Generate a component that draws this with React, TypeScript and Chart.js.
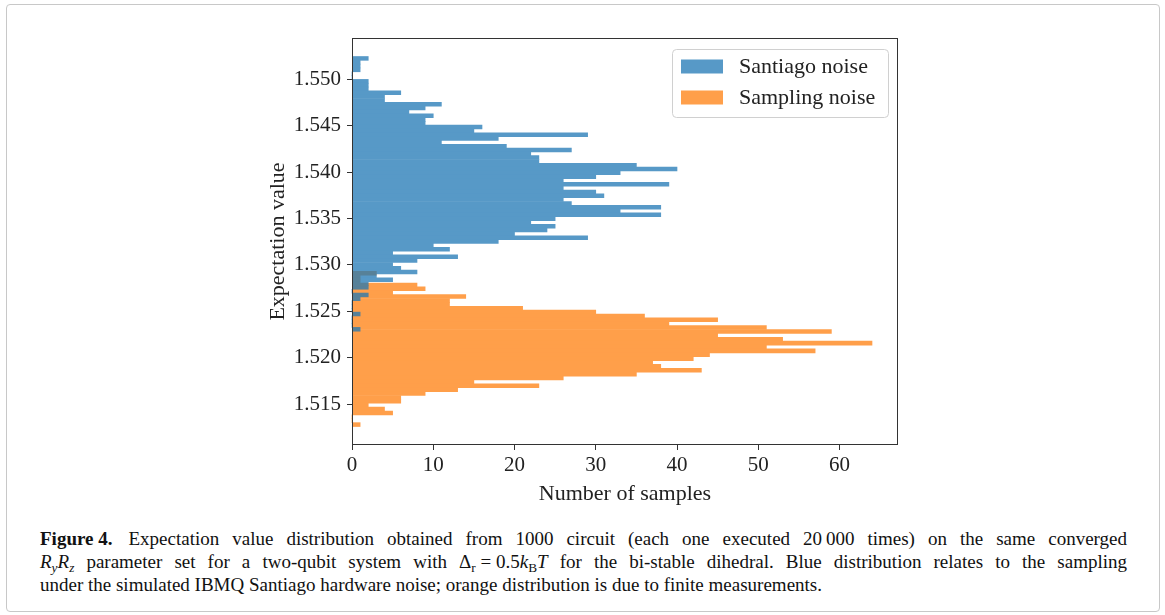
import React, { useEffect, useRef } from "react";
import { Chart, registerables } from "chart.js";

Chart.register(...registerables);

// ---- data (bins listed from the top of the axis downward) ----
const SERIES_LABELS = ["Santiago noise", "Sampling noise"];
const BLUE_TOP_EDGE = 1.55248;
const BLUE_BIN_WIDTH = 0.0004115;
const BLUE_COUNTS = [
  2, 1, 1, 1, 0, 0, 2, 2, 2, 6, 4, 4,
  11, 9, 7, 10, 9, 9, 16, 15, 29, 18, 11, 19,
  27, 22, 23, 23, 35, 40, 33, 30, 26, 39, 26, 30,
  31, 26, 27, 38, 33, 38, 25, 22, 25, 24, 20, 29,
  18, 10, 12, 5, 13, 8, 5, 6, 8, 3, 5, 2,
  2, 0, 2, 1, 0, 0, 0, 1, 0, 0, 0, 1,
];
const ORANGE_TOP_EDGE = 1.52931;
const ORANGE_BIN_WIDTH = 0.0004185;
const ORANGE_COUNTS = [
  3, 1, 1, 8, 9, 5, 14, 12, 12, 21,
  30, 36, 45, 39, 51, 59, 45, 53, 64, 51,
  57, 44, 42, 37, 38, 43, 35, 26, 15, 23,
  13, 9, 6, 6, 2, 4, 5, 0, 0, 1,
];
const Y_TICKS = [1.515, 1.52, 1.525, 1.53, 1.535, 1.54, 1.545, 1.55];
const X_TICKS = [0, 10, 20, 30, 40, 50, 60];
const Y_MIN = 1.510578;
const Y_MAX = 1.554476;
const X_MIN = 0;
const X_MAX = 67.2;

const BLUE = "#1f77b4";
const ORANGE = "#ff7f0e";
const BLUE_BLEND = "#5799c7";
const ORANGE_BLEND = "#ff9f4a";
const SERIF = '"Liberation Serif", "Times New Roman", serif';

function toPoints(counts: number[], top: number, w: number) {
  return counts.map((c, k) => ({ x: c, y: top - (k + 0.5) * w }));
}

// draw a dataset on its own layer, then composite it with one alpha (like matplotlib patches)
const alphaLayerPlugin = {
  id: "alphaLayer",
  beforeDatasetDraw(chart: any, args: any) {
    const ds: any = chart.data.datasets[args.index];
    if (ds.layerAlpha == null) return;
    const c = chart.canvas as HTMLCanvasElement;
    const off = document.createElement("canvas");
    off.width = c.width;
    off.height = c.height;
    const octx = off.getContext("2d")!;
    octx.setTransform(chart.ctx.getTransform());
    args.meta.controller._ctx = octx;
    chart.$layerCanvas = off;
  },
  afterDatasetDraw(chart: any, args: any) {
    const ds: any = chart.data.datasets[args.index];
    if (ds.layerAlpha == null) return;
    args.meta.controller._ctx = chart.ctx;
    const ctx = chart.ctx as CanvasRenderingContext2D;
    ctx.save();
    ctx.setTransform(1, 0, 0, 1, 0, 0);
    ctx.globalAlpha = ds.layerAlpha;
    ctx.drawImage(chart.$layerCanvas, 0, 0);
    ctx.restore();
  },
};

const framePlugin = {
  id: "frame",
  afterDatasetsDraw(chart: any) {
    const { ctx, chartArea } = chart;
    ctx.save();
    ctx.strokeStyle = "#333";
    ctx.lineWidth = 1;
    const l = Math.round(chartArea.left) + 0.5;
    const t = Math.round(chartArea.top) + 0.5;
    const r = Math.round(chartArea.right) - 0.5;
    const b = Math.round(chartArea.bottom) - 0.5;
    ctx.strokeRect(l, t, r - l, b - t);
    ctx.restore();
  },
};

const legendPlugin = {
  id: "boxLegend",
  afterDraw(chart: any) {
    const { ctx, chartArea } = chart;
    const colors = [BLUE_BLEND, ORANGE_BLEND];
    ctx.save();
    ctx.font = `22px ${SERIF}`;
    const maxW = Math.max(...SERIES_LABELS.map((t) => ctx.measureText(t).width));
    const padL = 9, handleW = 42, handleH = 14, gap = 16, padR = 13, rowH = 31;
    const boxW = padL + handleW + gap + maxW + padR;
    const boxH = 68;
    const right = chartArea.right - 10;
    const left = Math.round(right - boxW);
    const top = chartArea.top + 11;
    ctx.beginPath();
    (ctx as any).roundRect(left + 0.5, top + 0.5, Math.round(boxW), boxH, 4);
    ctx.fillStyle = "rgba(255,255,255,0.8)";
    ctx.fill();
    ctx.strokeStyle = "#d0d0d0";
    ctx.lineWidth = 1;
    ctx.stroke();
    SERIES_LABELS.forEach((label, i) => {
      const cy = top + 17.5 + i * rowH;
      ctx.fillStyle = colors[i];
      ctx.fillRect(left + padL, cy - handleH / 2, handleW, handleH);
      ctx.fillStyle = "#222";
      ctx.textAlign = "left";
      ctx.textBaseline = "middle";
      ctx.fillText(label, left + padL + handleW + gap, cy + 0.5);
    });
    ctx.restore();
  },
};

function HistChart() {
  const ref = useRef<HTMLCanvasElement | null>(null);
  useEffect(() => {
    if (!ref.current) return;
    const chart = new Chart(ref.current, {
      type: "bar",
      data: {
        datasets: [
          {
            label: SERIES_LABELS[0],
            data: toPoints(BLUE_COUNTS, BLUE_TOP_EDGE, BLUE_BIN_WIDTH),
            backgroundColor: BLUE,
            yAxisID: "y",
            barPercentage: 1,
            categoryPercentage: 1,
            grouped: false,
            borderWidth: 0,
            layerAlpha: 0.75,
          } as any,
          {
            label: SERIES_LABELS[1],
            data: toPoints(ORANGE_COUNTS, ORANGE_TOP_EDGE, ORANGE_BIN_WIDTH),
            backgroundColor: ORANGE,
            yAxisID: "y2",
            barPercentage: 1,
            categoryPercentage: 1,
            grouped: false,
            borderWidth: 0,
            layerAlpha: 0.75,
          } as any,
        ],
      },
      options: {
        indexAxis: "y",
        animation: false,
        responsive: false,
        events: [],
        layout: { padding: { left: 252, right: 267, top: 38, bottom: 13 } },
        plugins: { legend: { display: false }, tooltip: { enabled: false } },
        scales: {
          x: {
            type: "linear",
            position: "bottom",
            min: X_MIN,
            max: X_MAX,
            afterBuildTicks: (s: any) => {
              s.ticks = X_TICKS.map((v) => ({ value: v }));
            },
            afterFit: (s: any) => {
              s.height = 62;
            },
            ticks: {
              color: "#222",
              font: { family: SERIF, size: 21 },
              padding: 3,
              maxRotation: 0,
              autoSkip: false,
              callback: (v: any) => String(v),
            },
            grid: {
              display: true,
              drawOnChartArea: false,
              drawTicks: true,
              tickLength: 5,
              tickColor: "#333",
              tickWidth: 1,
            },
            border: { display: false },
            title: {
              display: true,
              text: "Number of samples",
              color: "#222",
              font: { family: SERIF, size: 22 },
              padding: { top: 0, bottom: 0 },
            },
          },
          y: {
            type: "linear",
            position: "left",
            min: Y_MIN,
            max: Y_MAX,
            offset: false,
            afterBuildTicks: (s: any) => {
              s.ticks = Y_TICKS.map((v) => ({ value: v }));
            },
            afterFit: (s: any) => {
              s.width = 100;
            },
            ticks: {
              color: "#222",
              font: { family: SERIF, size: 21 },
              padding: 6,
              autoSkip: false,
              callback: (v: any) => Number(v).toFixed(3),
            },
            grid: {
              display: true,
              drawOnChartArea: false,
              drawTicks: true,
              tickLength: 5,
              tickColor: "#333",
              tickWidth: 1,
              offset: false,
            },
            border: { display: false },
            title: {
              display: true,
              text: "Expectation value",
              color: "#222",
              font: { family: SERIF, size: 22 },
              padding: { top: 12.6, bottom: 0 },
            },
          },
          y2: {
            type: "linear",
            position: "left",
            display: false,
            min: Y_MIN,
            max: Y_MAX,
            offset: false,
            grid: { offset: false },
          },
        },
      } as any,
      plugins: [alphaLayerPlugin, framePlugin, legendPlugin],
    });
    return () => chart.destroy();
  }, []);
  return <canvas ref={ref} width={1165} height={520} style={{ display: "block" }} />;
}

export default function App() {
  const sub: React.CSSProperties = { fontSize: "0.7em", lineHeight: 0, verticalAlign: "-0.3em" };
  const justified: React.CSSProperties = {
    textAlign: "justify",
    textAlignLast: "justify" as any,
    height: 23,
    whiteSpace: "normal",
  };
  return (
    <div
      style={{
        position: "absolute",
        left: 0,
        top: 0,
        width: 1165,
        height: 615,
        background: "#fff",
        overflow: "hidden",
      }}
    >
      <div
        style={{
          position: "absolute",
          left: 6,
          top: 4,
          width: 1154,
          height: 608,
          border: "1px solid #c8c8c8",
          borderRadius: 4,
          boxSizing: "border-box",
        }}
      />
      <div style={{ position: "absolute", left: 0, top: 0, width: 1165, height: 520 }}>
        <HistChart />
      </div>
      <div
        style={{
          position: "absolute",
          left: 40,
          top: 527,
          width: 1087,
          fontFamily: SERIF,
          fontSize: 19,
          lineHeight: "23px",
          color: "#111",
        }}
      >
        <div style={justified}>
          <b style={{ display: "inline-block", whiteSpace: "nowrap", marginRight: 3 }}>Figure 4.</b> Expectation
          value distribution obtained from 1000 circuit (each one executed{" "}
          <span style={{ display: "inline-block", whiteSpace: "nowrap" }}>20&#8201;000</span> times) on the same
          converged
        </div>
        <div style={justified}>
          <i>R</i>
          <sub style={{ ...sub, fontStyle: "italic" }}>y</sub>
          <i>R</i>
          <sub style={{ ...sub, fontStyle: "italic" }}>z</sub> parameter set for a two-qubit system with{" "}
          <span style={{ display: "inline-block", whiteSpace: "nowrap" }}>
            Δ<sub style={sub}>r</sub> = 0.5<i>k</i>
            <sub style={sub}>B</sub>
            <i>T</i>
          </span>{" "}
          for the bi-stable dihedral. Blue distribution relates to the sampling
        </div>
        <div style={{ height: 23, whiteSpace: "nowrap" }}>
          under the simulated IBMQ Santiago hardware noise; orange distribution is due to finite measurements.
        </div>
      </div>
    </div>
  );
}
